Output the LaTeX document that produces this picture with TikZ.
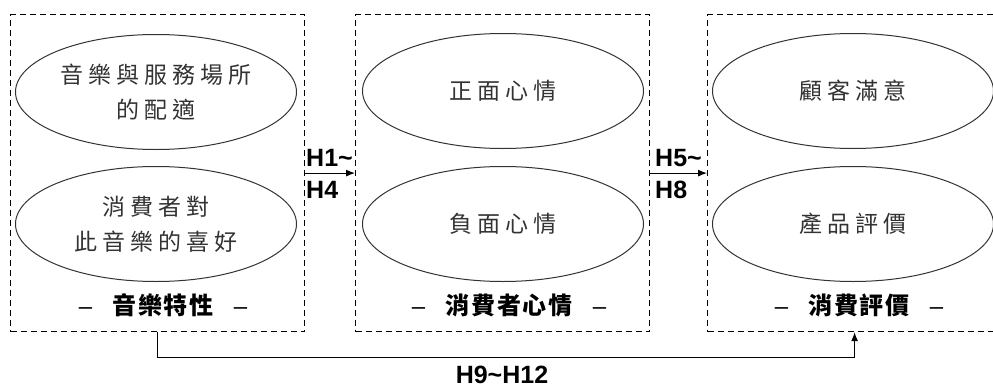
\documentclass[tikz,border=0pt]{standalone}
\usepackage{fontspec}
\setmainfont{Liberation Sans}
\newfontfamily\cjk[LetterSpace=22]{Noto Sans CJK TC}
\newfontfamily\cjkb[LetterSpace=8]{Noto Sans CJK TC}
\usetikzlibrary{shapes.geometric,arrows.meta}
\begin{document}
\begin{tikzpicture}[x=1pt,y=-1pt,
  grp/.style={draw, dash pattern=on 6pt off 4pt, line width=1.2pt, minimum width=294pt, minimum height=317pt, inner sep=0pt, anchor=north west},
  oval/.style={ellipse, draw=black!80, line width=1pt, minimum width=281pt, minimum height=115pt, inner sep=0pt, align=center, font=\cjk\fontsize{23}{35}\selectfont, text=black!80},
  ttl/.style={inner sep=0pt, font=\cjkb\bfseries\fontsize{24}{26}\selectfont},
  hyp/.style={inner sep=0pt, font=\bfseries\fontsize{25}{28}\selectfont},
  arr/.style={-{Latex[length=9pt,width=7pt]}, line width=1pt}]
\useasboundingbox (0,0) rectangle (993,388);
% groups
\node[grp] (g1) at (10,14) {};
\node[grp] (g2) at (355,14) {};
\node[grp] (g3) at (707,14) {};
% ellipses
\node[oval] (e1) at (156,92) {音樂與服務場所\\的配適};
\node[oval] (e2) at (156,224) {消費者對\\此音樂的喜好};
\node[oval] (e3) at (503,91) {正面心情};
\node[oval] (e4) at (503,224) {負面心情};
\node[oval] (e5) at (853,91) {顧客滿意};
\node[oval] (e6) at (853,224) {產品評價};
% titles
\node[ttl] (t1) at (163,305) {{\normalfont\mdseries –}\hspace{20pt}音樂特性\hspace{20pt}{\normalfont\mdseries –}};
\node[ttl] (t2) at (509,305) {{\normalfont\mdseries –}\hspace{20pt}消費者心情\hspace{20pt}{\normalfont\mdseries –}};
\node[ttl] (t3) at (859,305) {{\normalfont\mdseries –}\hspace{20pt}消費評價\hspace{20pt}{\normalfont\mdseries –}};
% connectors
\draw[arr] (g1.east) -- (g2.west);
\draw[arr] (g2.east) -- (g3.west);
\draw[arr] (g1.south) -- (g1.south |- 0,357) -| (g3.south);
% hypothesis labels
\node[hyp, anchor=west] (h1) at (306,158) {H1\textasciitilde};
\node[hyp, anchor=west] (h4) at (306,190) {H4};
\node[hyp, anchor=west] (h5) at (655,158) {H5\textasciitilde};
\node[hyp, anchor=west] (h8) at (655,190) {H8};
\node[hyp] (h9) at (502,375) {H9\textasciitilde H12};
\end{tikzpicture}
\end{document}
